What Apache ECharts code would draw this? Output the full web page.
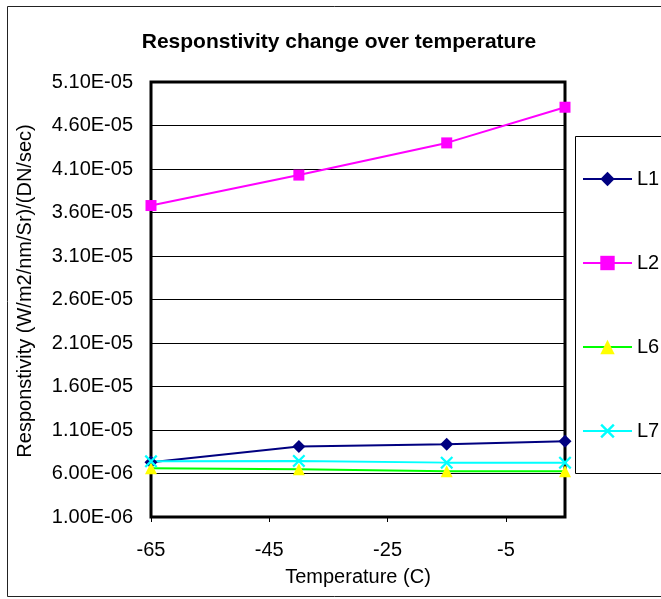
<!DOCTYPE html>
<html>
<head>
<meta charset="utf-8">
<script src="https://cdn.jsdelivr.net/npm/echarts@6/dist/echarts.min.js"></script>
<style>
	html, body { margin: 0; padding: 0; background: #fff; }
	#chartMain { width: 661px; height: 599px; }
</style>
</head>
<body>
<div id="chartMain"></div>
<script>
// Temperatures (C) the readings were taken at
const temperatures = [-65, -40, -15, 5]

// Responstivity per band
const seriesNames = ['L1', 'L2', 'L6', 'L7']
const l1Values = [7.3e-6, 9.1e-6, 9.35e-6, 9.7e-6]
const l2Values = [3.68e-5, 4.03e-5, 4.4e-5, 4.81e-5]
const l6Values = [6.6e-6, 6.5e-6, 6.25e-6, 6.25e-6]
const l7Values = [7.4e-6, 7.45e-6, 7.25e-6, 7.25e-6]

// Axis ranges [min, max, interval]
const xRange = [-65, 5, 20]
const yRange = [1e-6, 5.1e-5, 5e-6]

const FONT = 'Liberation Sans, Arial, sans-serif'

// 5.1e-5 -> 5.10E-05 (Excel style)
sciLabel = (v) => {
	const parts = v.toExponential(2).split('e')
	const exp = parseInt(parts[1])
	return parts[0] + 'E' + (exp < 0 ? '-' : '+') + String(Math.abs(exp)).padStart(2, '0')
}

toPoints = (values) => temperatures.map((t, i) => [t, values[i]])

// X marker for L7 (filled cross outline)
const crossSymbol =
	'path://M0,1.2L1.2,0L5,3.8L8.8,0L10,1.2L6.2,5L10,8.8L8.8,10L5,6.2L1.2,10L0,8.8L3.8,5Z'

chartMain = () => {
	var chart = echarts.init(document.getElementById('chartMain'))

	var option = {
		animation: false,
		backgroundColor: '#fff',
		title: {
			text: 'Responstivity change over temperature',
			left: 334,
			top: 27,
			textAlign: 'center',
			textStyle: { fontFamily: FONT, fontSize: 21, fontWeight: 'bold', color: '#000' },
		},
		legend: {
			orient: 'vertical',
			left: 582,
			top: 169,
			padding: 0,
			itemWidth: 49,
			itemHeight: 18,
			itemGap: 64,
			z: 10,
			textStyle: { fontFamily: FONT, fontSize: 20, color: '#000' },
			data: seriesNames,
		},
		grid: {
			left: 151,
			top: 82,
			width: 414,
			height: 435,
			show: true,
			borderColor: '#000',
			borderWidth: 3,
			backgroundColor: 'transparent',
		},
		xAxis: {
			type: 'value',
			min: xRange[0],
			max: xRange[1],
			interval: xRange[2],
			name: 'Temperature (C)',
			nameLocation: 'middle',
			nameGap: 50,
			nameTextStyle: { fontFamily: FONT, fontSize: 20, color: '#000' },
			axisLine: { show: false },
			axisTick: { show: true, length: 5, lineStyle: { color: '#000', width: 1 } },
			axisLabel: {
				fontFamily: FONT,
				fontSize: 20,
				color: '#000',
				margin: 23,
				showMaxLabel: false,
			},
			splitLine: { show: false },
		},
		yAxis: {
			type: 'value',
			min: yRange[0],
			max: yRange[1],
			interval: yRange[2],
			axisLine: { show: false },
			axisTick: { show: true, length: 5, lineStyle: { color: '#000', width: 1 } },
			axisLabel: {
				fontFamily: FONT,
				fontSize: 20,
				color: '#000',
				margin: 18,
				formatter: sciLabel,
			},
			splitLine: { show: true, lineStyle: { color: '#000', width: 1 } },
		},
		graphic: [
			// outer chart frame
			{
				type: 'rect',
				z: 0,
				shape: { x: 7.5, y: 6.5, width: 700, height: 590 },
				style: { fill: 'none', stroke: '#222', lineWidth: 1 },
			},
			// legend frame
			{
				type: 'rect',
				z: 1,
				shape: { x: 575.5, y: 136.5, width: 120, height: 337 },
				style: { fill: '#fff', stroke: '#000', lineWidth: 1 },
			},
			// y axis title
			{
				type: 'text',
				x: 25,
				y: 291,
				rotation: Math.PI / 2,
				style: {
					text: 'Responstivity (W/m2/nm/Sr)/(DN/sec)',
					fontFamily: FONT,
					fontSize: 20,
					fill: '#000',
					align: 'center',
					verticalAlign: 'middle',
				},
			},
		],
		series: [
			{
				name: 'L1',
				type: 'line',
				data: toPoints(l1Values),
				symbol: 'diamond',
				symbolSize: 13,
				lineStyle: { color: '#000080', width: 2 },
				itemStyle: { color: '#000080' },
			},
			{
				name: 'L2',
				type: 'line',
				data: toPoints(l2Values),
				symbol: 'rect',
				symbolSize: 11,
				lineStyle: { color: '#FF00FF', width: 2 },
				itemStyle: { color: '#FF00FF' },
			},
			{
				name: 'L6',
				type: 'line',
				data: toPoints(l6Values),
				symbol: 'triangle',
				symbolSize: 12,
				lineStyle: { color: '#00FF00', width: 2 },
				itemStyle: { color: '#FFFF00' },
			},
			{
				name: 'L7',
				type: 'line',
				data: toPoints(l7Values),
				symbol: crossSymbol,
				symbolSize: 13,
				lineStyle: { color: '#00FFFF', width: 2 },
				itemStyle: { color: '#00FFFF' },
			},
		],
	}

	chart.setOption(option)
}

chartMain()
</script>
</body>
</html>
